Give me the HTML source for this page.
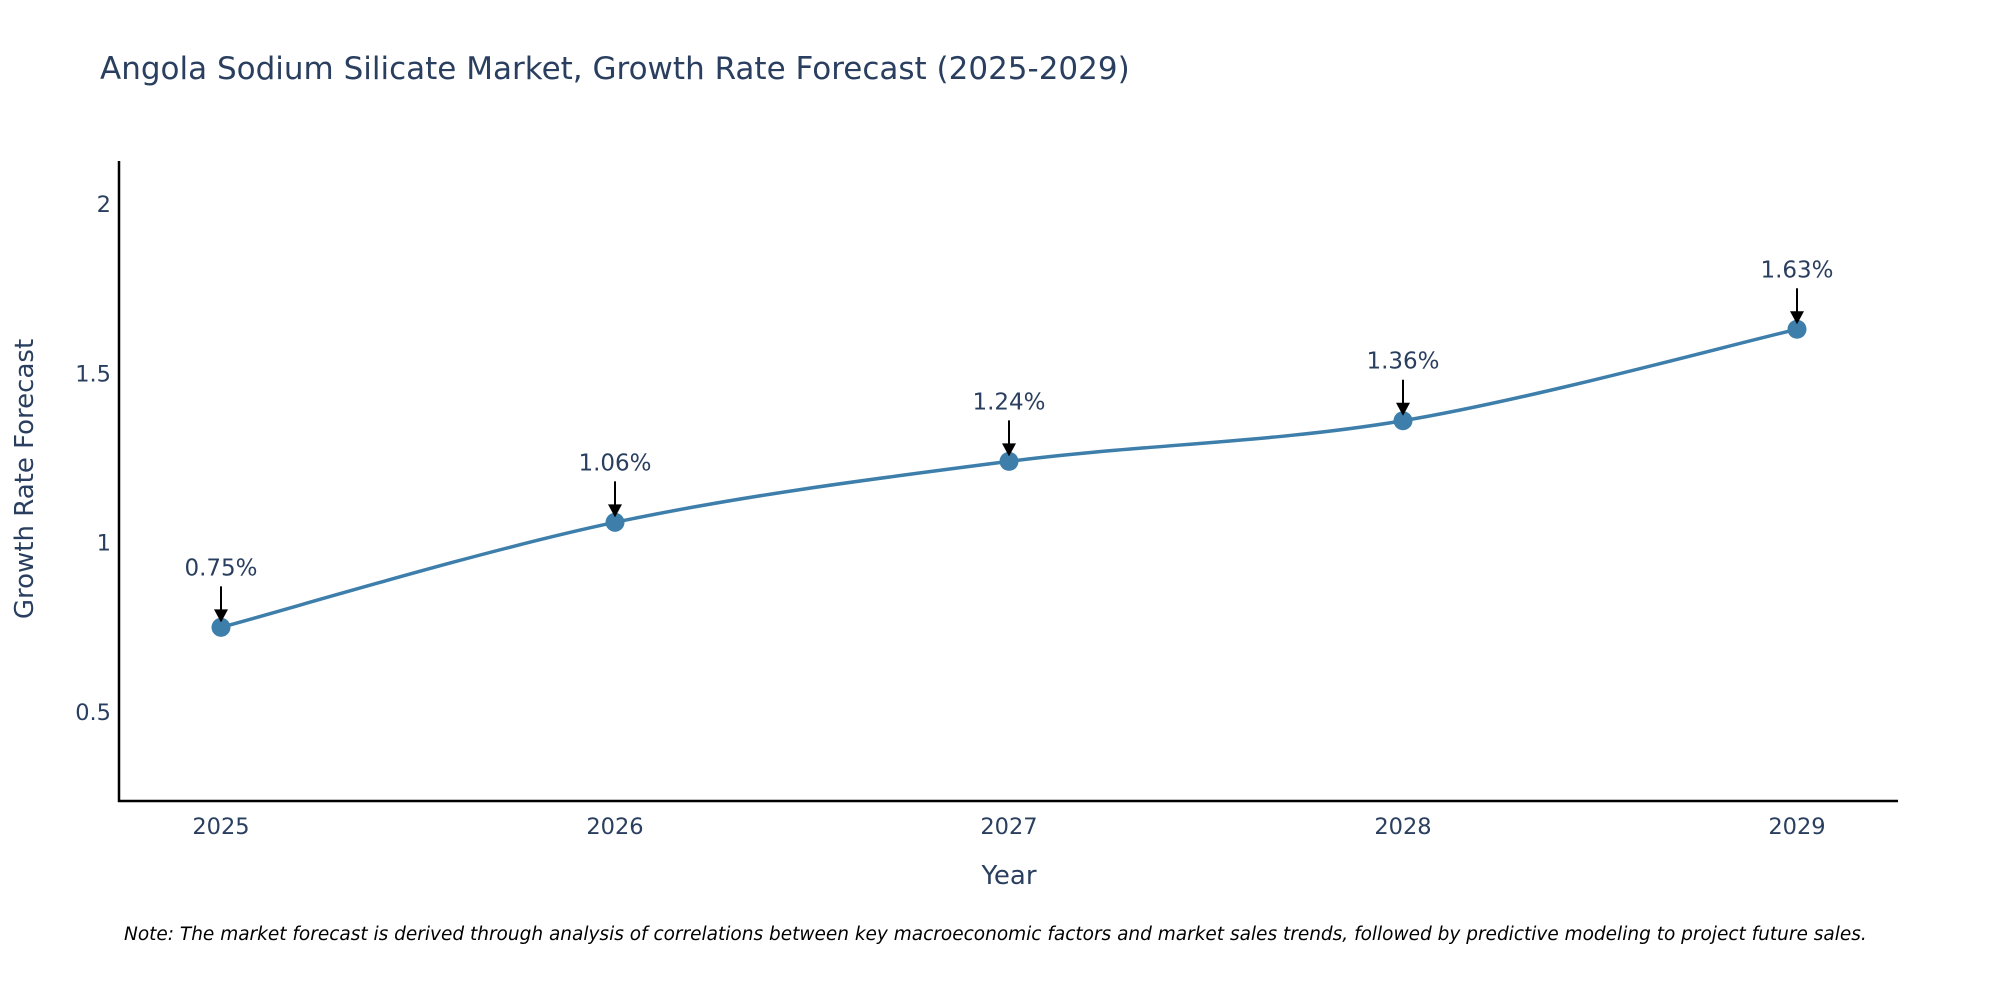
<!DOCTYPE html>
<html><head><meta charset="utf-8"><style>
html,body{margin:0;padding:0;background:#fff;}
svg{display:block;font-family:"DejaVu Sans","Liberation Sans",sans-serif;}
</style></head><body>
<svg id="chart" width="2000" height="1000" viewBox="0 0 2000 1000">
<text x="100" y="79" font-size="31" fill="#2a3f5f">Angola Sodium Silicate Market, Growth Rate Forecast (2025-2029)</text>
<g id="yticks"></g>
<g id="xticks"></g>
<line x1="119" y1="161" x2="119" y2="802" stroke="#000" stroke-width="2.5"/>
<line x1="118" y1="801" x2="1898" y2="801" stroke="#000" stroke-width="2.5"/>
<path id="line" fill="none" stroke="#3d7eab" stroke-width="3.5"/>
<g id="marks"></g>
<text x="33" y="479" font-size="26" fill="#2a3f5f" text-anchor="middle" transform="rotate(-90 33 479)">Growth Rate Forecast</text>
<text x="1009" y="884" font-size="26" fill="#2a3f5f" text-anchor="middle">Year</text>
<text x="124" y="940" font-size="18.5" font-style="italic" fill="#000">Note: The market forecast is derived through analysis of correlations between key macroeconomic factors and market sales trends, followed by predictive modeling to project future sales.</text>
</svg>
<script>
const years = ["2025","2026","2027","2028","2029"];
const values = [0.75, 1.06, 1.24, 1.36, 1.63];
const labels = ["0.75%","1.06%","1.24%","1.36%","1.63%"];
const yTicks = [0.5, 1, 1.5, 2];
const yTickLabels = ["0.5","1","1.5","2"];

const NS="http://www.w3.org/2000/svg";
function xPos(i){return 221 + i*(1797-221)/(years.length-1);}
function yPos(v){return 712 - (v-0.5)*338.7;}
function mk(tag,attrs,parent){const e=document.createElementNS(NS,tag);for(const k in attrs)e.setAttribute(k,attrs[k]);parent.appendChild(e);return e;}

const yt=document.getElementById('yticks');
yTicks.forEach((t,i)=>{
  const e=mk('text',{x:111,y:yPos(t)+8,'font-size':22.5,fill:'#2a3f5f','text-anchor':'end'},yt);
  e.textContent=yTickLabels[i];
  
  
});
const xt=document.getElementById('xticks');
years.forEach((y,i)=>{
  const e=mk('text',{x:xPos(i),y:834,'font-size':22.5,fill:'#2a3f5f','text-anchor':'middle'},xt);
  e.textContent=y;
  
  
});

const pts=values.map((v,i)=>[xPos(i),yPos(v)]);
let d=`M${pts[0][0]},${pts[0][1]}`;
const s=1/6;
for(let i=0;i<pts.length-1;i++){
  const p0=pts[Math.max(0,i-1)],p1=pts[i],p2=pts[i+1],p3=pts[Math.min(pts.length-1,i+2)];
  const c1=[p1[0]+(p2[0]-p0[0])*s,p1[1]+(p2[1]-p0[1])*s];
  const c2=[p2[0]-(p3[0]-p1[0])*s,p2[1]-(p3[1]-p1[1])*s];
  d+=` C${c1[0]},${c1[1]} ${c2[0]},${c2[1]} ${p2[0]},${p2[1]}`;
}
document.getElementById('line').setAttribute('d',d);

const g=document.getElementById('marks');
pts.forEach((p,i)=>{
  const c=mk('circle',{cx:p[0],cy:p[1],r:9.5,fill:'#3d7eab'},g);
  
  
  const l=mk('line',{x1:p[0],y1:p[1]-41,x2:p[0],y2:p[1]-16,stroke:'#000','stroke-width':2},g);
  
  
  const a=mk('polygon',{points:`${p[0]-7},${p[1]-18} ${p[0]+7},${p[1]-18} ${p[0]},${p[1]-5}`,fill:'#000'},g);
  
  
  const t=mk('text',{x:p[0],y:p[1]-52,'font-size':23,fill:'#2a3f5f','text-anchor':'middle'},g);
  t.textContent=labels[i];
  
  
});
</script>
</body></html>
